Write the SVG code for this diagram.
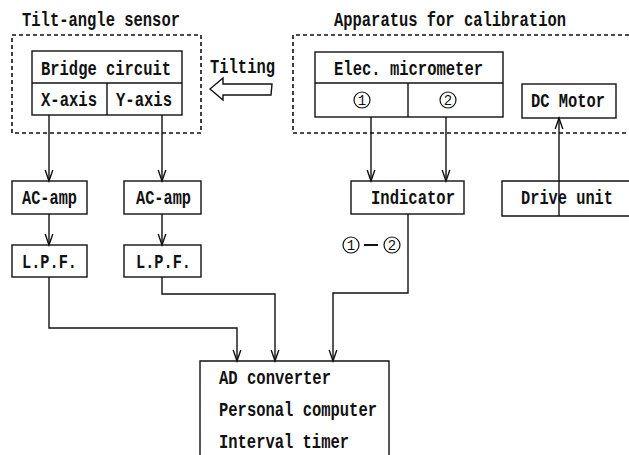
<svg xmlns="http://www.w3.org/2000/svg" width="629" height="455" viewBox="0 0 629 455">
  <style>
    .bg { fill: #ffffff; }
    .box { fill: #ffffff; stroke: #111111; stroke-width: 1.4; }
    .rule { fill: none; stroke: #111111; stroke-width: 1.4; }
    .frame { fill: none; stroke: #111111; stroke-width: 1.6; stroke-dasharray: 4 3; }
    .wire { fill: none; stroke: #111111; stroke-width: 1.4; }
    .lbl { font-family: "Liberation Mono", "Courier New", monospace; font-size: 20px; font-weight: bold; fill: #111111; }
    .num { font-family: "Liberation Mono", "Courier New", monospace; font-size: 14px; font-weight: normal; fill: #111111; text-anchor: middle; }
    .ring { fill: none; stroke: #111111; stroke-width: 1.2; }
  </style>
  <defs>
    <marker id="vee" markerUnits="userSpaceOnUse" viewBox="-12 -6 14 12" refX="0" refY="0" markerWidth="14" markerHeight="12" orient="auto">
      <path d="M-11,-3.8 L0,0 L-11,3.8" fill="none" stroke="#111111" stroke-width="1.4"/>
    </marker>
  </defs>

  <rect class="bg" x="0" y="0" width="629" height="455"/>

  <!-- group frames and titles -->
  <g id="tilt-sensor-frame">
    <text class="lbl" x="22" y="26" textLength="158" lengthAdjust="spacingAndGlyphs">Tilt-angle sensor</text>
    <rect class="frame" x="12" y="35" width="189" height="98"/>
  </g>
  <g id="calibration-frame">
    <text class="lbl" x="334" y="26" textLength="232" lengthAdjust="spacingAndGlyphs">Apparatus for calibration</text>
    <path class="frame" d="M629,35 H293 V133 H629"/>
  </g>

  <!-- bridge circuit with X / Y axis cells -->
  <g id="bridge-circuit">
    <rect class="box" x="32" y="51" width="150" height="64"/>
    <line class="rule" x1="32" y1="83" x2="182" y2="83"/>
    <line class="rule" x1="107" y1="83" x2="107" y2="115"/>
    <text class="lbl" x="41" y="75" textLength="130" lengthAdjust="spacingAndGlyphs">Bridge circuit</text>
    <text class="lbl" x="41" y="106" textLength="56" lengthAdjust="spacingAndGlyphs">X-axis</text>
    <text class="lbl" x="116" y="106" textLength="56" lengthAdjust="spacingAndGlyphs">Y-axis</text>
  </g>

  <!-- tilting input -->
  <g id="tilting">
    <text class="lbl" x="210" y="73" textLength="65" lengthAdjust="spacingAndGlyphs">Tilting</text>
    <polygon class="box" points="210,89 223,78 223,84 272,84 271,95 223,95 223,100"/>
  </g>

  <!-- electronic micrometer with probes 1 and 2 -->
  <g id="elec-micrometer">
    <rect class="box" x="315" y="52" width="188" height="65"/>
    <line class="rule" x1="315" y1="83" x2="503" y2="83"/>
    <line class="rule" x1="408" y1="83" x2="408" y2="117"/>
    <text class="lbl" x="334" y="75" textLength="149" lengthAdjust="spacingAndGlyphs">Elec. micrometer</text>
    <circle class="ring" cx="362" cy="100" r="8"/>
    <text class="num" x="362" y="105">1</text>
    <circle class="ring" cx="448" cy="100" r="8"/>
    <text class="num" x="448" y="105">2</text>
  </g>

  <g id="dc-motor">
    <rect class="box" x="522" y="84" width="94" height="34"/>
    <text class="lbl" x="531" y="107" textLength="74" lengthAdjust="spacingAndGlyphs">DC Motor</text>
  </g>

  <g id="ac-amp-x">
    <rect class="box" x="12" y="181" width="75" height="33"/>
    <text class="lbl" x="22" y="204" textLength="55" lengthAdjust="spacingAndGlyphs">AC-amp</text>
  </g>
  <g id="ac-amp-y">
    <rect class="box" x="124" y="181" width="77" height="33"/>
    <text class="lbl" x="136" y="204" textLength="55" lengthAdjust="spacingAndGlyphs">AC-amp</text>
  </g>
  <g id="lpf-x">
    <rect class="box" x="12" y="245" width="75" height="32"/>
    <text class="lbl" x="22" y="268" textLength="55" lengthAdjust="spacingAndGlyphs">L.P.F.</text>
  </g>
  <g id="lpf-y">
    <rect class="box" x="124" y="245" width="77" height="32"/>
    <text class="lbl" x="136" y="268" textLength="55" lengthAdjust="spacingAndGlyphs">L.P.F.</text>
  </g>

  <g id="indicator">
    <rect class="box" x="351" y="181" width="113" height="33"/>
    <text class="lbl" x="371" y="204" textLength="84" lengthAdjust="spacingAndGlyphs">Indicator</text>
  </g>

  <g id="drive-unit">
    <path class="rule" d="M629,181 H502 V216 H629"/>
    <text class="lbl" x="521" y="204" textLength="92" lengthAdjust="spacingAndGlyphs">Drive unit</text>
  </g>

  <g id="ad-pc-timer">
    <path class="rule" d="M200,455 V361 H389 V455"/>
    <text class="lbl" x="219" y="384" textLength="112" lengthAdjust="spacingAndGlyphs">AD converter</text>
    <text class="lbl" x="219" y="416" textLength="158" lengthAdjust="spacingAndGlyphs">Personal computer</text>
    <text class="lbl" x="219" y="448" textLength="130" lengthAdjust="spacingAndGlyphs">Interval timer</text>
  </g>

  <!-- signal connectors -->
  <g id="connectors">
    <path class="wire" d="M49,115 V181" marker-end="url(#vee)"/>
    <path class="wire" d="M162,115 V181" marker-end="url(#vee)"/>
    <path class="wire" d="M49,214 V245" marker-end="url(#vee)"/>
    <path class="wire" d="M162,214 V245" marker-end="url(#vee)"/>
    <path class="wire" d="M371,117 V181" marker-end="url(#vee)"/>
    <path class="wire" d="M446,117 V181" marker-end="url(#vee)"/>
    <path class="wire" d="M559,216 V118" marker-end="url(#vee)"/>
    <path class="wire" d="M49,277 V328 H237 V361" marker-end="url(#vee)"/>
    <path class="wire" d="M162,277 V294 H275 V361" marker-end="url(#vee)"/>
    <path class="wire" d="M408,214 V293 H333 V361" marker-end="url(#vee)"/>
  </g>

  <!-- difference label on the indicator output -->
  <g id="diff-label">
    <circle class="ring" cx="351" cy="245" r="8"/>
    <text class="num" x="351" y="250">1</text>
    <line class="rule" x1="364" y1="245" x2="378" y2="245" style="stroke-width:2"/>
    <circle class="ring" cx="392" cy="245" r="8"/>
    <text class="num" x="392" y="250">2</text>
  </g>
</svg>
